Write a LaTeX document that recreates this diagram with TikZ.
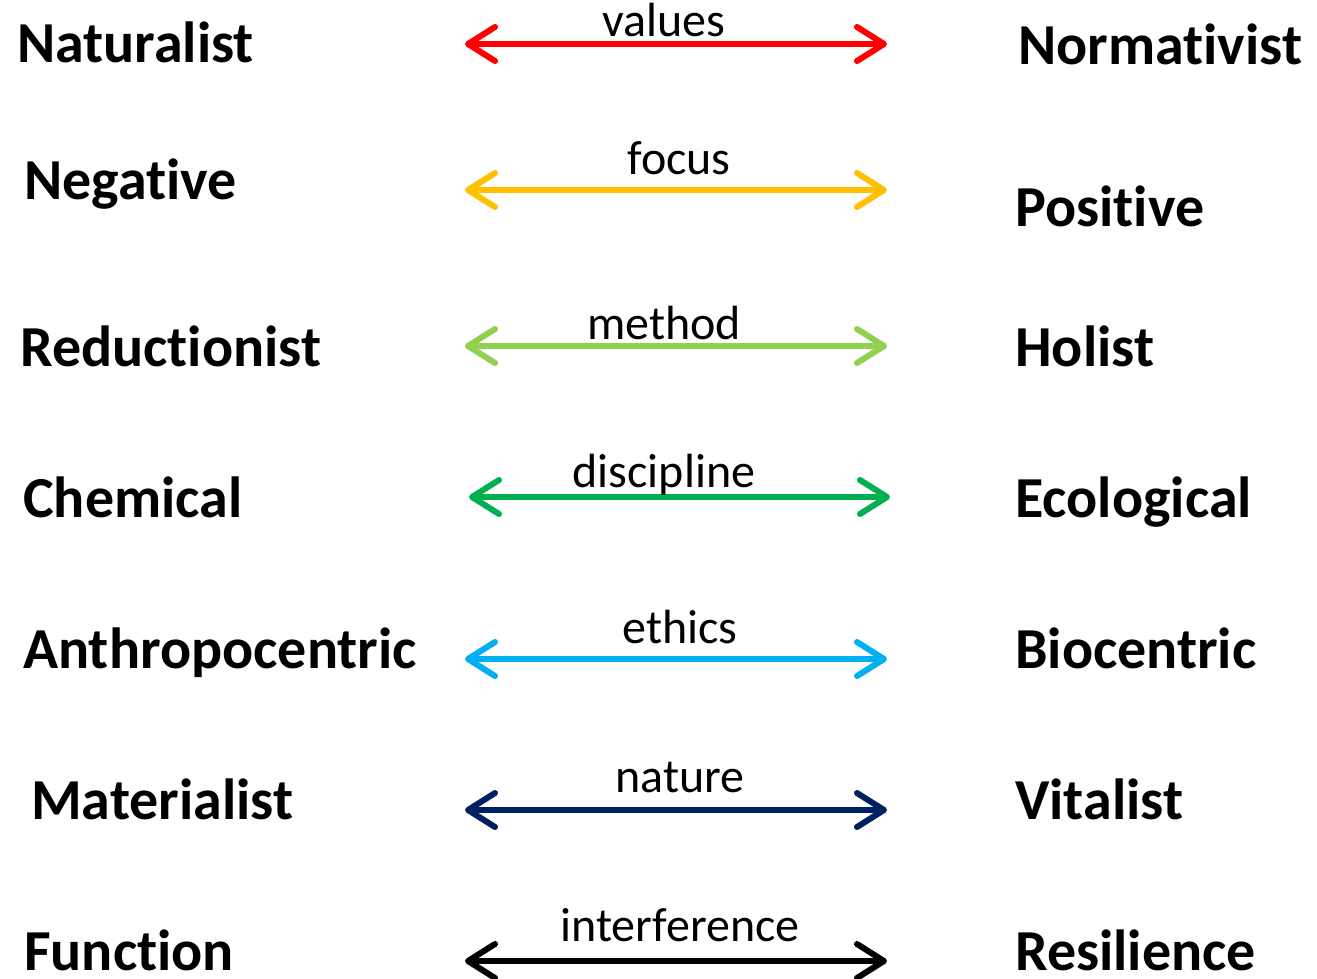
\documentclass[tikz,border=0pt]{standalone}
\usepackage{fontspec}
\setmainfont[Ligatures={NoCommon}]{Carlito}
\usetikzlibrary{arrows.meta}
\newcommand{\nolig}{\kern0pt\relax}
\definecolor{cRed}{HTML}{FF0000}
\definecolor{cOrange}{HTML}{FFC000}
\definecolor{cLgreen}{HTML}{92D050}
\definecolor{cGreen}{HTML}{00B050}
\definecolor{cLblue}{HTML}{00B0F0}
\definecolor{cDblue}{HTML}{002060}
\definecolor{cBlack}{HTML}{000000}
\begin{document}
\begin{tikzpicture}[x=1pt,y=-1pt,
  term/.style={anchor=base west,inner sep=0pt,font=\fontsize{58}{62}\selectfont\bfseries},
  lbl/.style={anchor=base,inner sep=0pt,font=\fontsize{48}{52}\selectfont},
  dbl/.style={line width=6pt,{Straight Barb[length=27pt,width=34pt,round]}-{Straight Barb[length=27pt,width=34pt,round]}}]
\useasboundingbox (0,0) rectangle (1317,979);
% row 1
\node[term] (l1) at (17,63) {Naturalist};
\node[term] (r1) at (1018,65) {Normat\nolig ivist};
\coordinate (a1) at (465,44); \coordinate (b1) at (887,44);
\draw[dbl,cRed] (a1) -- (b1);
\node[lbl] (t1) at (664,37) {values};
% row 2
\node[term] (l2) at (24,199) {Negat\nolig ive};
\node[term] (r2) at (1015,226) {Posit\nolig ive};
\coordinate (a2) at (465,190); \coordinate (b2) at (887,190);
\draw[dbl,cOrange] (a2) -- (b2);
\node[lbl] (t2) at (679,174) {focus};
% row 3
\node[term] (l3) at (20,366) {Reduct\nolig ionist};
\node[term] (r3) at (1015,366) {Holist};
\coordinate (a3) at (465,346); \coordinate (b3) at (887,346);
\draw[dbl,cLgreen] (a3) -- (b3);
\node[lbl] (t3) at (664,339) {method};
% row 4
\node[term] (l4) at (23,517) {Chemical};
\node[term] (r4) at (1015,517) {Ecological};
\coordinate (a4) at (469,497); \coordinate (b4) at (890,497);
\draw[dbl,cGreen] (a4) -- (b4);
\node[lbl] (t4) at (664,487) {discipline};
% row 5
\node[term] (l5) at (23,668) {Anthropocentric};
\node[term] (r5) at (1015,668) {Biocentric};
\coordinate (a5) at (465,659); \coordinate (b5) at (887,659);
\draw[dbl,cLblue] (a5) -- (b5);
\node[lbl] (t5) at (680,643) {ethics};
% row 6
\node[term] (l6) at (31,819) {Materialist};
\node[term] (r6) at (1015,819) {Vitalist};
\coordinate (a6) at (465,810); \coordinate (b6) at (887,810);
\draw[dbl,cDblue] (a6) -- (b6);
\node[lbl] (t6) at (680,792) {nature};
% row 7
\node[term] (l7) at (24,970) {Funct\nolig ion};
\node[term] (r7) at (1015,970) {Resilience};
\coordinate (a7) at (465,961); \coordinate (b7) at (887,961);
\draw[dbl,cBlack] (a7) -- (b7);
\node[lbl] (t7) at (680,941) {interference};
\end{tikzpicture}
\end{document}
